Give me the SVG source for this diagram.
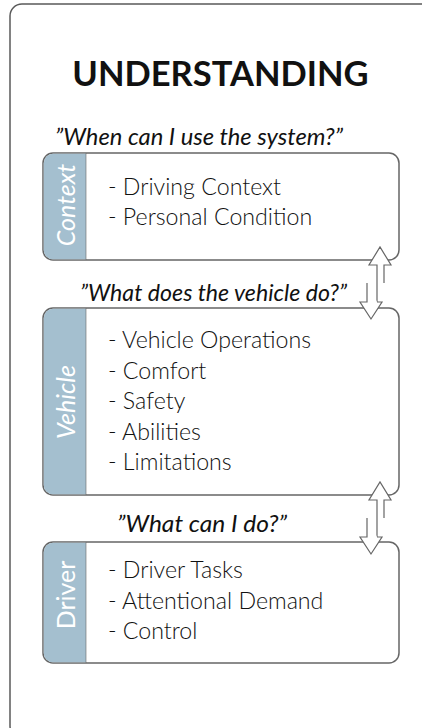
<svg xmlns="http://www.w3.org/2000/svg" width="422" height="728" viewBox="0 0 422 728">
<style>
.frame{fill:#fff;stroke:#5a5a5a;stroke-width:1.5}
.box{fill:#fff;stroke:#666;stroke-width:1.5}
.side{fill:#a4bfcf}
.title{font-family:Lato,"Liberation Sans",sans-serif;font-weight:bold;font-size:34.5px;fill:#111}
.q{font-family:Lato,"Liberation Sans",sans-serif;font-style:italic;font-size:23px;fill:#111}
.item{font-family:Lato,"Liberation Sans",sans-serif;font-weight:300;font-size:23.2px;fill:#111}
.lab{font-family:Lato,"Liberation Sans",sans-serif;font-size:25px;fill:#fff;text-anchor:middle;dominant-baseline:central}
.arr{fill:#fff;stroke:#666;stroke-width:1.2;stroke-linejoin:miter}
</style>
<rect class="frame" x="10" y="4" width="440" height="734" rx="12"/>
<text class="title" x="220.5" y="86" text-anchor="middle">UNDERSTANDING</text>
<text class="q" x="55" y="145" textLength="288" lengthAdjust="spacingAndGlyphs">”When can I use the system?”</text>
<text class="q" x="80" y="301" textLength="267" lengthAdjust="spacingAndGlyphs">”What does the vehicle do?”</text>
<text class="q" x="117" y="532" textLength="170" lengthAdjust="spacingAndGlyphs">”What can I do?”</text>

<g id="context">
<rect class="box" x="43" y="153" width="356" height="107" rx="10"/>
<path class="side" d="M86,153.75 H53 A9.25,9.25 0 0 0 43.75,163 V250 A9.25,9.25 0 0 0 53,259.25 H86 Z"/>
<line x1="86" y1="153" x2="86" y2="260" stroke="#666" stroke-width="0.6"/>
<text class="lab" font-style="italic" transform="translate(65,205) rotate(-90)">Context</text>
<text class="item" x="108" y="195">- Driving Context</text>
<text class="item" x="108" y="225">- Personal Condition</text>
</g>

<g id="vehicle">
<rect class="box" x="43" y="308" width="356" height="187" rx="10"/>
<path class="side" d="M86,308.75 H53 A9.25,9.25 0 0 0 43.75,318 V485 A9.25,9.25 0 0 0 53,494.25 H86 Z"/>
<line x1="86" y1="308" x2="86" y2="495" stroke="#666" stroke-width="0.6"/>
<text class="lab" font-style="italic" transform="translate(65,402) rotate(-90)">Vehicle</text>
<text class="item" x="108" y="348">- Vehicle Operations</text>
<text class="item" x="108" y="379">- Comfort</text>
<text class="item" x="108" y="409">- Safety</text>
<text class="item" x="108" y="440">- Abilities</text>
<text class="item" x="108" y="470">- Limitations</text>
</g>

<g id="driver">
<rect class="box" x="43" y="542" width="356" height="121" rx="10"/>
<path class="side" d="M86,542.75 H53 A9.25,9.25 0 0 0 43.75,552 V653 A9.25,9.25 0 0 0 53,662.25 H86 Z"/>
<line x1="86" y1="542" x2="86" y2="663" stroke="#666" stroke-width="0.6"/>
<text class="lab" transform="translate(65,595) rotate(-90)">Driver</text>
<text class="item" x="108" y="578">- Driver Tasks</text>
<text class="item" x="108" y="609">- Attentional Demand</text>
<text class="item" x="108" y="639">- Control</text>
</g>

<g id="connectors">
<g>
<path class="arr" d="M384,283 V265 H391 L380,247 L369,265 H377 V302"/>
<path class="arr" d="M367,283 V302 H360 L371,319 L382,302 H377"/>
</g>
<g transform="translate(0,235)">
<path class="arr" d="M384,283 V265 H391 L380,247 L369,265 H377 V302"/>
<path class="arr" d="M367,283 V302 H360 L371,319 L382,302 H377"/>
</g>
</g>
</svg>
